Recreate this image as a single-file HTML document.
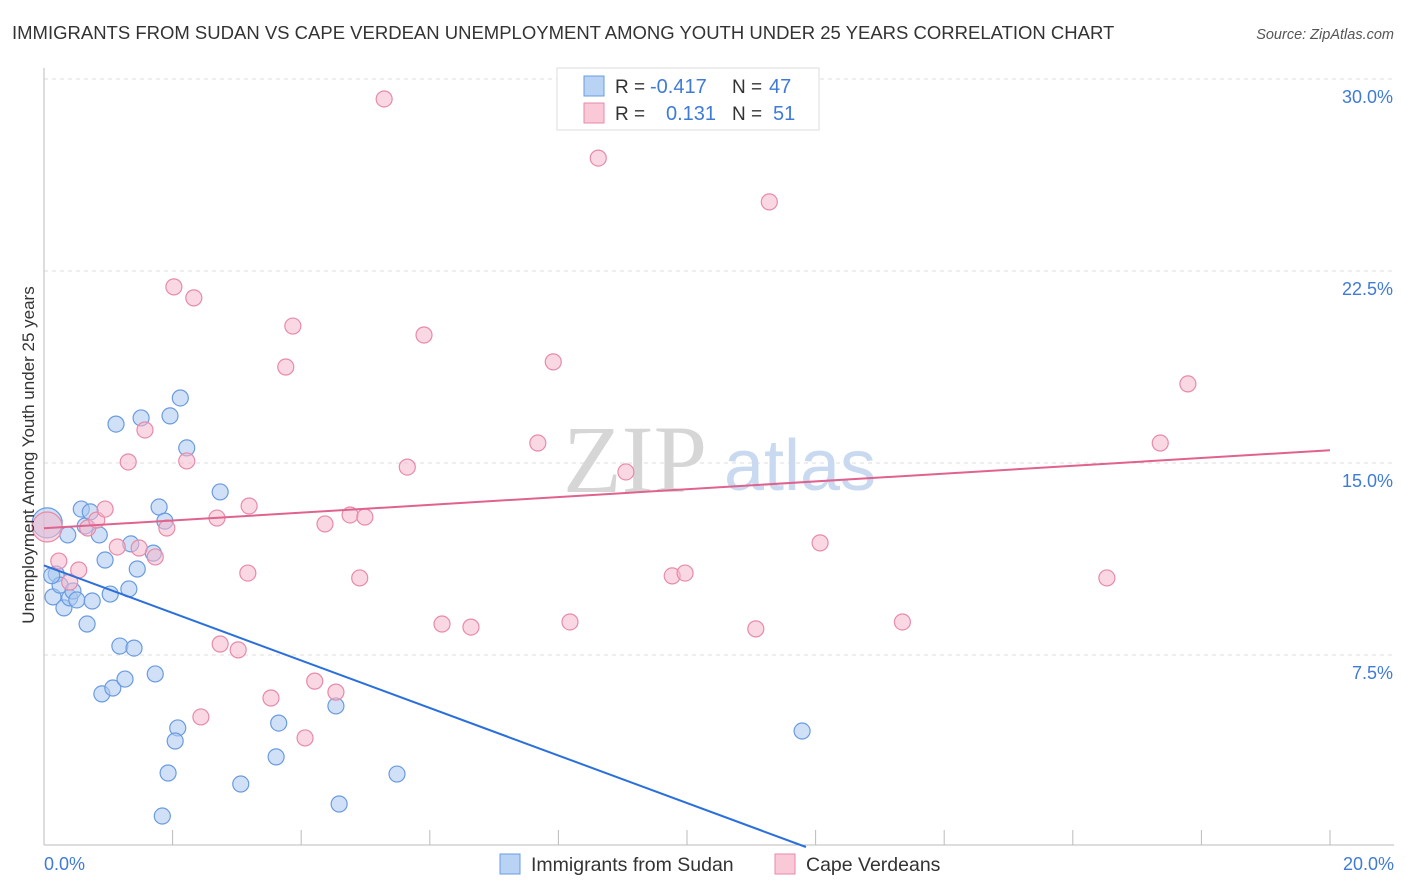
<!DOCTYPE html>
<html><head><meta charset="utf-8">
<style>
body{margin:0;background:#fff;font-family:"Liberation Sans",sans-serif;}
svg{display:block}
</style></head>
<body>
<svg id="chart" width="1406" height="892">
<text x="12" y="39" font-size="18.5" fill="#333">IMMIGRANTS FROM SUDAN VS CAPE VERDEAN UNEMPLOYMENT AMONG YOUTH UNDER 25 YEARS CORRELATION CHART</text>
<text x="1394" y="39" font-size="14.5" fill="#555" font-style="italic" text-anchor="end">Source: ZipAtlas.com</text>
<g id="grid"></g>
<text x="635" y="492" font-size="96" fill="#d6d6d6" font-family="Liberation Serif,serif" text-anchor="middle">ZIP</text>
<text x="800" y="490" font-size="72" fill="#c9d9ef" text-anchor="middle">atlas</text>
<g id="axes"></g>
<g id="pts"></g>
<g id="lines"></g>
<text x="-455" y="34" font-size="17" fill="#333" transform="rotate(-90)" text-anchor="middle">Unemployment Among Youth under 25 years</text>
<text x="44" y="870" font-size="18" fill="#3f7bd6">0.0%</text>
<text x="1394" y="870" font-size="18" fill="#3f7bd6" text-anchor="end">20.0%</text>
<g>
<rect x="557" y="68" width="262" height="62" fill="#fff" stroke="#ddd"/>
<rect x="584" y="76" width="20" height="20" fill="#b9d3f4" stroke="#6a9be0"/>
<rect x="584" y="103" width="20" height="20" fill="#f9c9d8" stroke="#e88aa8"/>
<text x="615" y="93" font-size="19" fill="#333">R =</text>
<text x="650" y="93" font-size="20" fill="#3f7bd6">-0.417</text>
<text x="732" y="93" font-size="19" fill="#333">N =</text>
<text x="769" y="93" font-size="20" fill="#3f7bd6">47</text>
<text x="615" y="120" font-size="19" fill="#333">R =</text>
<text x="666" y="120" font-size="20" fill="#3f7bd6">0.131</text>
<text x="732" y="120" font-size="19" fill="#333">N =</text>
<text x="773" y="120" font-size="20" fill="#3f7bd6">51</text>
</g>
<g>
<rect x="500" y="854" width="20" height="20" fill="#b9d3f4" stroke="#6a9be0"/>
<text x="531" y="871" font-size="19.5" fill="#333">Immigrants from Sudan</text>
<rect x="775" y="854" width="20" height="20" fill="#f9c9d8" stroke="#e88aa8"/>
<text x="806" y="871" font-size="19.5" fill="#333">Cape Verdeans</text>
</g>
</svg>
<script>
const yTicks=[7.5,15,22.5,30];
const yTickLabels=["7.5%","15.0%","22.5%","30.0%"];
const xTicks=[0,2,4,6,8,10,12,14,16,18,20];
const sudanX=[.05,.19,.14,.25,.31,.37,.40,.45,.51,.58,.64,.67,.72,.75,.86,.95,1.03,1.12,1.18,.90,1.07,1.26,1.40,1.45,1.32,1.51,1.35,1.70,1.73,1.79,1.88,1.96,2.12,2.22,2.74,2.08,2.04,1.93,1.84,3.06,3.65,3.61,4.54,4.59,5.49,11.79,.12];
const sudanY=[12.66,10.66,9.77,10.23,9.34,12.19,9.73,10.0,9.65,13.2,12.54,8.71,13.09,9.61,12.19,11.21,9.88,16.52,7.85,5.98,6.21,6.56,7.77,10.86,10.08,16.76,11.84,11.48,6.76,13.28,12.73,16.84,17.54,15.59,13.87,4.65,4.14,2.89,1.21,2.46,4.84,3.52,5.51,1.68,2.85,4.53,10.6];
const capeX=[.05,.23,.40,.54,.68,.82,.95,1.14,1.31,1.48,1.57,1.73,1.91,2.02,2.22,2.33,2.44,2.69,2.74,3.02,3.19,3.17,3.53,3.76,3.87,4.06,4.21,4.37,4.54,4.76,4.99,4.91,5.29,5.65,5.91,6.19,6.64,7.68,7.92,8.18,8.62,9.05,9.77,9.97,11.07,11.28,12.07,13.35,16.53,17.36,17.79];
const capeY=[12.5,11.17,10.35,10.82,12.46,12.77,13.2,11.72,15.04,11.68,16.29,11.33,12.46,21.88,15.08,21.45,5.08,12.85,7.93,7.70,13.32,10.70,5.82,18.75,20.35,4.26,6.48,12.62,6.05,12.97,12.89,10.51,29.22,14.84,20.0,8.71,8.59,15.78,18.95,8.79,26.91,14.65,10.59,10.70,8.52,25.2,11.88,8.79,10.51,15.78,18.09];
const sudanTrend=[[0,11.0],[11.85,0]];
const capeTrend=[[0,12.45],[20,15.5]];
const X=v=>44+v*64.3, Y=v=>847-v*25.6;
const NS="http://www.w3.org/2000/svg";
function mk(t,a,p){const e=document.createElementNS(NS,t);for(const k in a)e.setAttribute(k,a[k]);p.appendChild(e);return e;}
const grid=document.getElementById('grid'),axes=document.getElementById('axes'),pts=document.getElementById('pts'),lines=document.getElementById('lines');
yTicks.forEach((t,i)=>{
 const l=mk('line',{x1:44,x2:1394,y1:Y(t),y2:Y(t),stroke:'#ddd','stroke-dasharray':'4,4'},grid);
 
 
 const tx=mk('text',{x:1393,y:Y(t)+24,'font-size':18,fill:'#3f7bd6','text-anchor':'end'},grid);
 tx.textContent=yTickLabels[i];
 
 
});
mk('line',{x1:44,x2:44,y1:68,y2:845,stroke:'#bbb'},axes);
mk('line',{x1:44,x2:1394,y1:845,y2:845,stroke:'#bbb'},axes);
xTicks.forEach(t=>{
 const l=mk('line',{x1:X(t),x2:X(t),y1:830,y2:845,stroke:'#bbb'},axes);
 
 
});
function dots(xs,ys,fill,stroke,name){
 xs.forEach((x,i)=>{
  const c=mk('circle',{cx:X(x),cy:Y(ys[i]),r:i===0?15:8,fill:fill,'fill-opacity':0.55,stroke:stroke,'stroke-width':1.2},pts);
  
  
 });
}
dots(sudanX,sudanY,'#a9c8f0','#6a9be0','sudan-point');
dots(capeX,capeY,'#f5b8cc','#e88aa8','cape-verdean-point');
const l1=mk('line',{x1:X(sudanTrend[0][0]),y1:Y(sudanTrend[0][1]),x2:X(sudanTrend[1][0]),y2:Y(sudanTrend[1][1]),stroke:'#2a6fdb','stroke-width':2},lines);


const l2=mk('line',{x1:X(capeTrend[0][0]),y1:Y(capeTrend[0][1]),x2:X(capeTrend[1][0]),y2:Y(capeTrend[1][1]),stroke:'#e0628e','stroke-width':2},lines);


</script>
</body></html>
